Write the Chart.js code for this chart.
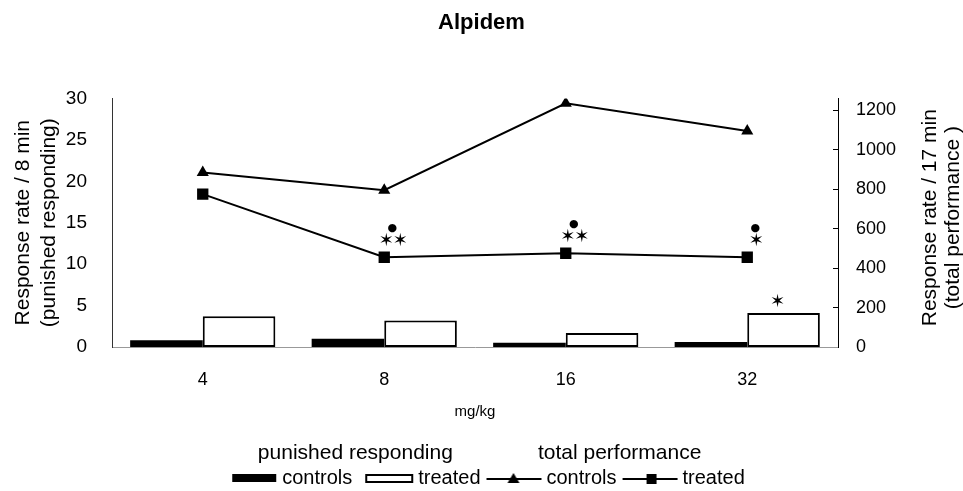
<!DOCTYPE html>
<html>
<head>
<meta charset="utf-8">
<script src="https://cdn.jsdelivr.net/npm/chart.js@4"></script>
<style>
  html, body { margin: 0; padding: 0; background: #fff; }
  #wrap { width: 963px; height: 491px; }
</style>
</head>
<body>
<div id="wrap"><canvas id="chart"></canvas></div>
<script>
// datos
const doses = ['4', '8', '16', '32'];
const punishedControls = [0.8, 1.0, 0.5, 0.6];
const punishedTreated = [3.7, 3.2, 1.7, 4.1];
const totalControls = [885, 795, 1235, 1095];
const totalTreated = [775, 455, 475, 455];
const leftTicks = [0, 5, 10, 15, 20, 25, 30];
const rightTicks = [0, 200, 400, 600, 800, 1000, 1200];
// marcas de significación
const sigDots = ['', '●', '●', '●'];
const sigStars = ['', '✶✶', '✶✶', '✶'];
const barStars = ['', '', '', '✶'];

const legendNames = ['controls', 'treated', 'controls', 'treated'];
const legendGroups = ['punished responding', 'total performance'];
const rightTitle = ['Response rate / 17 min', '(total performance )'];

const FONT = '"Liberation Sans", Arial, Helvetica, sans-serif';
Chart.defaults.font.family = FONT;
Chart.defaults.color = '#000';

// iconos de la leyenda: el canvas es más ancho que la caja (74 vs 54) para acercar el símbolo al texto
function legendIcon(kind) {
  const c = document.createElement('canvas');
  c.width = 74; c.height = 14;
  const g = c.getContext('2d');
  g.fillStyle = '#000';
  g.strokeStyle = '#000';
  if (kind === 'solid') {
    g.fillRect(24, 3, 44, 8);
  } else if (kind === 'open') {
    g.lineWidth = 2;
    g.strokeRect(22, 4, 46, 7);
  } else {
    g.lineWidth = 2;
    g.beginPath(); g.moveTo(14, 8); g.lineTo(69, 8); g.stroke();
    if (kind === 'tri') {
      g.beginPath(); g.moveTo(41, 2); g.lineTo(47, 12); g.lineTo(35, 12); g.closePath(); g.fill();
    } else {
      g.fillRect(38, 3, 10, 10);
    }
  }
  return c;
}
const icons = [legendIcon('solid'), legendIcon('open'), legendIcon('tri'), legendIcon('sq')];

// asteriscos y puntos encima de las series
const sigMarks = {
  id: 'sigMarks',
  afterDatasetsDraw(chart) {
    const ctx = chart.ctx;
    const pts = chart.getDatasetMeta(3).data;
    const bars = chart.getDatasetMeta(1).data;
    ctx.save();
    ctx.fillStyle = '#000';
    ctx.textAlign = 'center';
    ctx.textBaseline = 'middle';
    pts.forEach((p, i) => {
      ctx.font = '11px "DejaVu Sans"';
      ctx.fillText(sigDots[i], p.x + 8, p.y - 29);
      ctx.font = 'bold 18px "DejaVu Sans"';
      const s = [...sigStars[i]];
      s.forEach((ch, k) => {
        ctx.fillText(ch, p.x + 9 + (k - (s.length - 1) / 2) * 14, p.y - 16);
      });
    });
    ctx.font = 'bold 18px "DejaVu Sans"';
    bars.forEach((b, i) => ctx.fillText(barStars[i], b.x - 6, b.y - 11));
    ctx.restore();
  }
};

// títulos de grupo de la leyenda y título del eje derecho (girado como el izquierdo)
const extraText = {
  id: 'extraText',
  afterDraw(chart) {
    const ctx = chart.ctx;
    const boxes = chart.legend.legendHitBoxes;
    ctx.save();
    ctx.fillStyle = '#000';
    ctx.textAlign = 'center';
    ctx.textBaseline = 'middle';
    ctx.font = '21px ' + FONT;
    if (boxes.length === 4) {
      const c1 = (boxes[0].left + 12 + boxes[1].left + boxes[1].width) / 2;
      const c2 = (boxes[2].left + 12 + boxes[3].left + boxes[3].width) / 2;
      ctx.fillText(legendGroups[0], c1, boxes[0].top - 15);
      ctx.fillText(legendGroups[1], c2, boxes[2].top - 15);
    }
    const yr = chart.scales.yRight;
    const area = chart.chartArea;
    ctx.font = '21px ' + FONT;
    ctx.translate(yr.left + 92, (area.top + area.bottom) / 2 - 5);
    ctx.rotate(-Math.PI / 2);
    ctx.fillText(rightTitle[0], 0, 0);
    ctx.fillText(rightTitle[1], 0, 23);
    ctx.restore();
  }
};

new Chart(document.getElementById('chart'), {
  type: 'bar',
  data: {
    labels: doses,
    datasets: [
      { label: 'controls', data: punishedControls, yAxisID: 'yLeft',
        backgroundColor: '#000', borderColor: '#000', borderWidth: 0,
        categoryPercentage: 0.8, barPercentage: 1.0 },
      { label: 'treated', data: punishedTreated, yAxisID: 'yLeft',
        backgroundColor: '#fff', borderColor: '#000', borderWidth: 2, borderSkipped: false,
        categoryPercentage: 0.8, barPercentage: 1.0 },
      { type: 'line', label: 'controls', data: totalControls, yAxisID: 'yRight',
        borderColor: '#000', backgroundColor: '#000', borderWidth: 2, tension: 0,
        pointStyle: 'triangle', pointRadius: 7, pointBackgroundColor: '#000', pointBorderWidth: 0 },
      { type: 'line', label: 'treated', data: totalTreated, yAxisID: 'yRight',
        borderColor: '#000', backgroundColor: '#000', borderWidth: 2, tension: 0,
        pointStyle: 'rect', pointRadius: 8, pointBackgroundColor: '#000', pointBorderWidth: 0 }
    ]
  },
  options: {
    responsive: true,
    maintainAspectRatio: false,
    animation: false,
    // el hueco vacío bajo la última fila de la leyenda queda fuera del lienzo
    layout: { padding: { left: 0, right: 0, top: 0, bottom: -7 } },
    plugins: {
      tooltip: { enabled: false },
      title: {
        display: true, text: 'Alpidem',
        font: { size: 22, weight: 'bold' }, color: '#000',
        padding: { top: 10, bottom: 62 }
      },
      legend: {
        position: 'bottom',
        title: { display: true, text: ' ', font: { size: 20 }, padding: { top: 21, bottom: 0 } },
        labels: {
          usePointStyle: true, pointStyleWidth: 54, boxHeight: 14,
          padding: 2, font: { size: 20 }, color: '#000',
          generateLabels(chart) {
            const items = Chart.defaults.plugins.legend.labels.generateLabels(chart);
            items.forEach((it, i) => { it.pointStyle = icons[i]; it.text = legendNames[i]; });
            return items;
          }
        }
      }
    },
    scales: {
      x: {
        afterFit: s => { s.height = 74; },
        grid: { display: false },
        border: { display: true, color: '#999', width: 1 },
        ticks: { color: '#000', font: { size: 18 }, padding: 14 },
        title: { display: true, text: 'mg/kg', font: { size: 15 }, color: '#000', padding: { top: 4, bottom: 0 } }
      },
      yLeft: {
        position: 'left', min: 0, max: 30,
        afterBuildTicks: s => { s.ticks = leftTicks.map(v => ({ value: v })); },
        afterFit: s => { s.width = 112; },
        grid: { display: false },
        border: { display: true, color: '#333', width: 1, dash: [1, 3] },
        ticks: { color: '#000', font: { size: 19 }, padding: 17 },
        title: {
          display: true, text: ['Response rate / 8 min', '(punished responding)'],
          font: { size: 21 }, color: '#000', padding: { top: 11, bottom: 0 }
        }
      },
      yRight: {
        position: 'right', min: 0, max: 1260,
        afterBuildTicks: s => { s.ticks = rightTicks.map(v => ({ value: v })); },
        afterFit: s => { s.width = 125; },
        grid: { drawOnChartArea: false, drawTicks: true, tickLength: -5, color: '#000', lineWidth: 1 },
        border: { display: true, color: '#000', width: 1 },
        ticks: { color: '#000', font: { size: 18 }, padding: 23, callback: v => String(v) }
      }
    }
  },
  plugins: [sigMarks, extraText]
});
</script>
</body>
</html>
